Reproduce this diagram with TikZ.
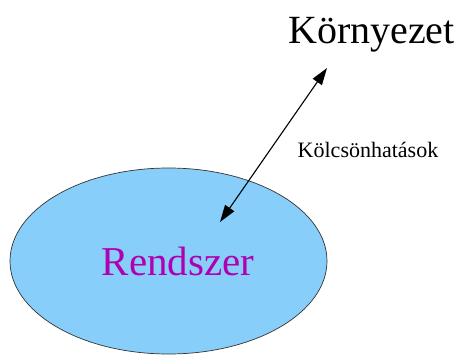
\documentclass[tikz,border=0pt]{standalone}
\usepackage{fontspec}
\setmainfont{Liberation Serif}
\usetikzlibrary{shapes.geometric,arrows.meta}
\definecolor{skyfill}{RGB}{135,206,250}
\definecolor{sysmag}{RGB}{176,0,176}
\tikzset{
  sysell/.style={ellipse,draw=black!80,line width=0.7pt,fill=skyfill,inner sep=0pt,minimum width=317pt,minimum height=186pt},
  link/.style={line width=1.1pt,{Triangle[length=17pt,width=11pt]}-{Triangle[length=17pt,width=11pt]}}
}
\begin{document}
\begin{tikzpicture}[x=1pt,y=-1pt]
\useasboundingbox (0,0) rectangle (461,356);
\node[sysell] (sys) at (168.5,261) {};
\node[anchor=base,text=sysmag,font=\fontsize{41}{45}\selectfont,inner sep=0pt] (rend) at (178,275) {Rendszer};
\node[anchor=base,font=\fontsize{40}{44}\selectfont,inner sep=0pt] (env) at (371.5,43) {Környezet};
\node[anchor=base,font=\fontsize{22}{26}\selectfont,inner sep=0pt] (kol) at (368,157.3) {Kölcsönhatások};
\coordinate (a) at (220,222);
\coordinate (b) at (327,68);
\draw[link] (a) -- (b);
\end{tikzpicture}
\end{document}
